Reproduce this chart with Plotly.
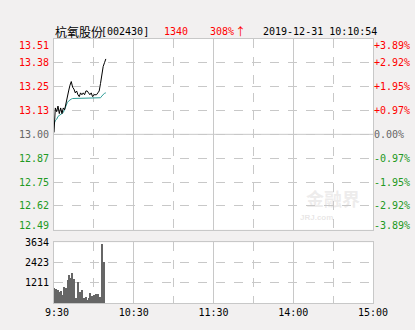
import plotly.graph_objects as go

# ---------------- data ----------------
prev_close = 13.00
minutes = list(range(40))
price = [13.01, 13.14, 13.12, 13.15, 13.11, 13.14, 13.11, 13.14, 13.13, 13.17,
         13.21, 13.23, 13.26, 13.28, 13.25, 13.24, 13.22, 13.23, 13.21, 13.20,
         13.22, 13.21, 13.22, 13.21, 13.23, 13.23, 13.22, 13.21, 13.22, 13.20,
         13.21, 13.21, 13.21, 13.22, 13.23, 13.27, 13.32, 13.36, 13.38, 13.40]
avg_price = [13.055, 13.073, 13.080, 13.095, 13.100, 13.105, 13.110, 13.116, 13.133, 13.154,
             13.168, 13.177, 13.184, 13.187, 13.190, 13.190, 13.190, 13.190, 13.190, 13.190,
             13.190, 13.190, 13.190, 13.190, 13.190, 13.190, 13.190, 13.190, 13.190, 13.190,
             13.190, 13.190, 13.190, 13.190, 13.191, 13.194, 13.203, 13.213, 13.218, 13.220]
vol_minutes = list(range(38))
volume = [899, 840, 645, 742, 645, 684, 449, 938, 410, 879,
          1329, 1661, 1466, 1778, 879, 1426, 254, 215, 1231, 645,
          352, 742, 293, 156, 352, 156, 254, 606, 410, 352,
          449, 489, 293, 489, 313, 293, 3537, 2443]

price_ticks = [12.4943, 12.6207, 12.7471, 12.8736, 13.00, 13.1264, 13.2529, 13.3793, 13.5057]
price_labels = ["12.49", "12.62", "12.75", "12.87", "13.00", "13.13", "13.25", "13.38", "13.51"]
pct_labels = ["-3.89%", "-2.92%", "-1.95%", "-0.97%", "0.00%", "+0.97%", "+1.95%", "+2.92%", "+3.89%"]
vol_ticks = [1211, 2423, 3634]
vol_labels = ["1211", "2423", "3634"]
time_ticks = [0, 60, 120, 180, 240]
time_labels = ["\u00a09:30", "10:30", "11:30", "14:00", "15:00"]

title_name = "杭氧股份"
title_code = "[002430]"
last_price_txt = "1340"
change_txt = "308%"
arrow_txt = "↑"
stamp_txt = "2019-12-31 10:10:54"

# ---------------- styles ----------------
RED = "#FF0000"
GREEN = "#229922"
GRAYTXT = "#666666"
GRID = "#C8C8C8"
MONO = "DejaVu Sans Mono"
CJK = "Noto Sans CJK SC"
W, H = 415, 330
ML, MR, MT, MB = 54, 42, 39, 21
PW, PH = W - ML - MR, H - MT - MB


def px_x(px):
    return (px - ML) / PW


def px_y(py):
    return (H - MB - py) / PH


fig = go.Figure()
fig.add_trace(go.Scatter(x=minutes, y=avg_price, mode="lines",
                         line=dict(color="#2E9B96", width=1), xaxis="x", yaxis="y",
                         hoverinfo="skip"))
fig.add_trace(go.Scatter(x=minutes, y=price, mode="lines",
                         line=dict(color="#000000", width=1), xaxis="x", yaxis="y",
                         hoverinfo="skip"))
fig.add_trace(go.Bar(x=vol_minutes, y=volume, marker=dict(color="#666666", line=dict(width=0)),
                     width=0.7, offset=0, xaxis="x2", yaxis="y2"))

axis_common = dict(showline=True, mirror=True, linecolor=GRID, linewidth=1,
                   zeroline=False, fixedrange=True)

fig.update_layout(
    width=W, height=H,
    margin=dict(l=ML, r=MR, t=MT, b=MB),
    paper_bgcolor="#F2F0F0", plot_bgcolor="#FFFFFF",
    showlegend=False, bargap=0,
    xaxis=dict(domain=[0, 1], anchor="y", range=[0, 240], tickvals=time_ticks,
               showticklabels=False, showgrid=True, gridcolor=GRID, gridwidth=1,
               minor=dict(dtick=30, tick0=0, showgrid=True, gridcolor=GRID, griddash="dash"),
               **axis_common),
    yaxis=dict(domain=[px_y(234), 1], anchor="x", range=[price_ticks[0], price_ticks[-1]],
               tickvals=price_ticks, showticklabels=False, showgrid=True,
               gridcolor=GRID, griddash="dash", **axis_common),
    xaxis2=dict(domain=[0, 1], anchor="y2", range=[0, 240], tickvals=time_ticks,
                ticktext=time_labels, ticks="", showgrid=True, gridcolor=GRID,
                minor=dict(dtick=30, tick0=0, showgrid=True, gridcolor=GRID, griddash="dash"),
                tickfont=dict(family=MONO, size=10, color="#000000"), **axis_common),
    yaxis2=dict(domain=[0, px_y(247)], anchor="x2", range=[0, vol_ticks[-1]],
                tickvals=vol_ticks, ticktext=vol_labels, ticks="", showgrid=True,
                gridcolor=GRID, griddash="dash", ticklabelstandoff=2,
                tickfont=dict(family=MONO, size=10, color="#000000"), **axis_common),
)

# solid line at previous close
fig.add_shape(type="line", xref="x domain", yref="y", x0=0, x1=1, y0=prev_close, y1=prev_close,
              line=dict(color=GRID, width=1))

# price axis labels (left prices, right percentages)
annots = []
n = len(price_ticks)
for i, (v, lab, pct) in enumerate(zip(price_ticks, price_labels, pct_labels)):
    if v > prev_close + 1e-6:
        col = RED
    elif v < prev_close - 1e-6:
        col = GREEN
    else:
        col = GRAYTXT
    ys = -6 if i == n - 1 else (4 if i == 0 else 0)
    annots.append(dict(x=0, xref="paper", y=v, yref="y", text=lab, showarrow=False,
                       xanchor="right", yanchor="middle", xshift=-3, yshift=ys,
                       font=dict(family=MONO, size=10, color=col)))
    annots.append(dict(x=1, xref="paper", y=v, yref="y", text=pct, showarrow=False,
                       xanchor="left", yanchor="middle", xshift=-1, yshift=ys,
                       font=dict(family=MONO, size=10, color=col)))

# header texts
hy = px_y(31)
annots += [
    dict(x=px_x(53), xref="paper", y=hy, yref="paper", text=title_name, showarrow=False,
         xanchor="left", yanchor="middle", font=dict(family=CJK, size=12, color="#000000")),
    dict(x=px_x(99), xref="paper", y=hy, yref="paper", text=title_code, showarrow=False,
         xanchor="left", yanchor="middle", font=dict(family=MONO, size=10, color="#000000")),
    dict(x=px_x(162), xref="paper", y=hy, yref="paper", text=last_price_txt, showarrow=False,
         xanchor="left", yanchor="middle", font=dict(family=MONO, size=10, color=RED)),
    dict(x=px_x(208), xref="paper", y=hy, yref="paper", text=change_txt, showarrow=False,
         xanchor="left", yanchor="middle", font=dict(family=MONO, size=10, color=RED)),
    dict(x=px_x(233), xref="paper", y=hy, yref="paper", text=arrow_txt, showarrow=False,
         xanchor="left", yanchor="middle", font=dict(family=CJK, size=11, color=RED)),
    dict(x=px_x(261), xref="paper", y=hy, yref="paper", text=stamp_txt, showarrow=False,
         xanchor="left", yanchor="middle", font=dict(family=MONO, size=10, color="#000000")),
    # faint watermark
    dict(x=px_x(333), xref="paper", y=px_y(202), yref="paper", text="<b>金融界</b>", showarrow=False,
         xanchor="center", yanchor="middle",
         font=dict(family=CJK, size=18, color="rgba(205,200,200,0.35)")),
    dict(x=px_x(316), xref="paper", y=px_y(222), yref="paper", text="<b>JRJ.com</b>", showarrow=False,
         xanchor="center", yanchor="middle",
         font=dict(family="Liberation Sans", size=8, color="rgba(205,200,200,0.45)")),
]
fig.update_layout(annotations=annots)

fig.write_html("out.html")
